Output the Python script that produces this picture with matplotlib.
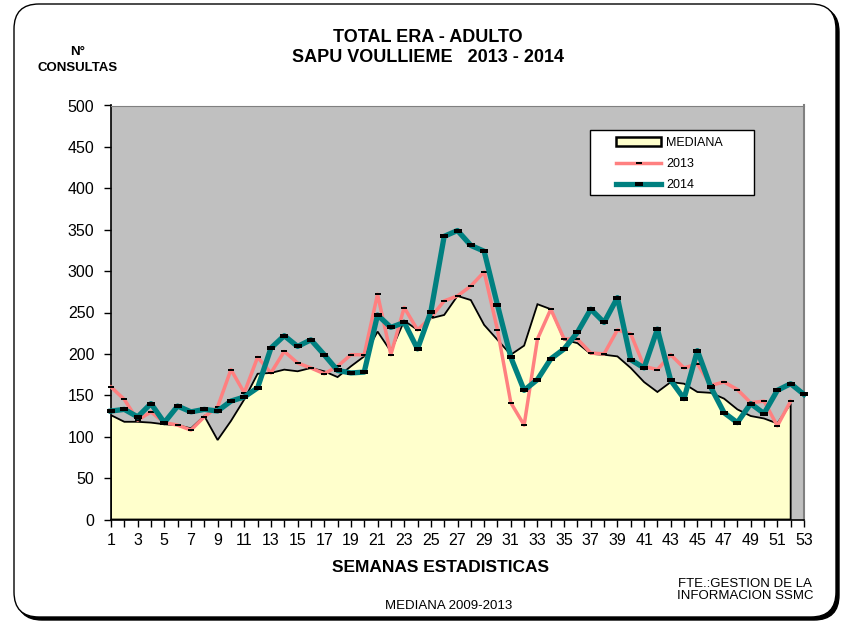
import matplotlib
matplotlib.use("Agg")
import matplotlib.pyplot as plt
import numpy as np
from matplotlib.patches import FancyBboxPatch, Patch, Rectangle
from matplotlib.lines import Line2D

plt.rcParams["font.family"] = ["Liberation Sans", "DejaVu Sans"]

# semanas estadisticas
semanas = np.arange(1, 54)

# mediana 2009-2013 (semanas 1-52)
mediana = [126, 118, 118, 117, 115, 114, 110, 125, 96, 119,
           145, 176, 177, 181, 179, 183, 179, 172, 185, 197,
           227, 203, 240, 229, 243, 247, 270, 265, 235, 217,
           199, 210, 260, 254, 217, 213, 200, 199, 197, 183,
           166, 154, 166, 164, 154, 153, 146, 133, 125, 122,
           116, 140]

# 2013 (semanas 1-52)
serie_2013 = [160, 145, 120, 130, 117, 114, 108, 124, 136, 181,
              153, 196, 177, 203, 189, 183, 176, 185, 199, 199,
              272, 199, 256, 229, 244, 264, 270, 282, 299, 229,
              141, 114, 218, 254, 218, 218, 201, 200, 229, 224,
              185, 181, 199, 183, 188, 162, 166, 157, 141, 143,
              113, 143]

# 2014 (semanas 1-53)
serie_2014 = [131, 133, 124, 140, 117, 137, 130, 133, 131, 143,
              148, 159, 207, 222, 209, 217, 199, 180, 177, 178,
              247, 232, 238, 206, 251, 342, 349, 331, 324, 259,
              196, 156, 169, 194, 206, 226, 254, 238, 268, 193,
              183, 230, 168, 146, 204, 160, 129, 117, 140, 128,
              156, 164, 151]

yticks = [0, 50, 100, 150, 200, 250, 300, 350, 400, 450, 500]

fig = plt.figure(figsize=(8.43, 6.21), dpi=100)

# marco redondeado con sombra
sombra = FancyBboxPatch((0.17, 0.01), 8.22, 6.13,
                        boxstyle="round,pad=0,rounding_size=0.25",
                        transform=fig.dpi_scale_trans,
                        facecolor="black", edgecolor="black", zorder=-2)
marco = FancyBboxPatch((0.14, 0.04), 8.22, 6.13,
                       boxstyle="round,pad=0,rounding_size=0.25",
                       transform=fig.dpi_scale_trans,
                       facecolor="white", edgecolor="black", lw=1, zorder=-1)
fig.add_artist(sombra)
fig.add_artist(marco)

ax = fig.add_axes([111 / 843, 101.5 / 621, 693 / 843, 414 / 621])
ax.set_facecolor("#C0C0C0")

sem_med = semanas[:len(mediana)]
xs = np.concatenate([[sem_med[0]], sem_med, [sem_med[-1]]])
ys = np.concatenate([[0], mediana, [0]])
ax.fill(xs, ys, facecolor="#FFFFCC", edgecolor="black", lw=1.3, zorder=2)

dash = [(-1, -0.42), (1, -0.42), (1, 0.42), (-1, 0.42), (-1, -0.42)]
ax.plot(semanas[:len(serie_2013)], serie_2013, color="#FF8080", lw=2.5,
        marker=dash, markersize=4, markerfacecolor="black",
        markeredgewidth=0, clip_on=False, zorder=3)
ax.plot(semanas, serie_2014, color="#008080", lw=3.8,
        marker=dash, markersize=5.3, markerfacecolor="black",
        markeredgewidth=0, clip_on=False, zorder=4)

ax.set_xlim(1, 53)
ax.set_ylim(0, 500)
ax.set_yticks(yticks)
ax.set_xticks(semanas)
ax.set_xticklabels([str(s) if s % 2 == 1 else "" for s in semanas])
ax.tick_params(axis="y", direction="out", length=5, width=1, pad=7,
               labelsize=11.5, colors="black")
ax.tick_params(axis="x", direction="out", length=5, width=1, pad=5,
               labelsize=11.5, colors="black")
ax.spines["left"].set_color("black")
ax.spines["bottom"].set_color("black")
ax.spines["left"].set_linewidth(1.2)
ax.spines["bottom"].set_linewidth(1.2)
ax.spines["top"].set_color("#808080")
ax.spines["right"].set_color("#808080")
ax.spines["right"].set_linewidth(1.5)

# caja de la leyenda
caja = Rectangle((5.90, (621 - 195) / 100), 1.64, 0.65,
                 transform=fig.dpi_scale_trans, facecolor="white",
                 edgecolor="black", lw=1, zorder=9)
fig.add_artist(caja)

handles = [
    Patch(facecolor="#FFFFCC", edgecolor="black", lw=1.8, label="MEDIANA"),
    Line2D([], [], color="#FF8080", lw=2.5, marker=dash, markersize=4,
           markerfacecolor="black", markeredgewidth=0, label="2013"),
    Line2D([], [], color="#008080", lw=3.8, marker=dash, markersize=5.3,
           markerfacecolor="black", markeredgewidth=0, label="2014"),
]
leg = fig.legend(handles=handles, loc="upper left",
                 bbox_to_anchor=(616 / 843, 1 - 137 / 621),
                 bbox_transform=fig.transFigure,
                 fontsize=9, frameon=False, handlelength=3.6,
                 handletextpad=0.4, borderpad=0, labelspacing=0.72,
                 numpoints=1, borderaxespad=0)
leg.set_zorder(10)

fig.text(428 / 843, 1 - 38 / 621, "TOTAL ERA - ADULTO", ha="center",
         va="center", fontsize=13, fontweight="bold")
fig.text(428 / 843, 1 - 58 / 621, "SAPU VOULLIEME   2013 - 2014", ha="center",
         va="center", fontsize=13, fontweight="bold")
fig.text(78 / 843, 1 - 52 / 621, "N°", ha="center", va="center",
         fontsize=9.5, fontweight="bold")
fig.text(78 / 843, 1 - 68 / 621, "CONSULTAS", ha="center", va="center",
         fontsize=9.5, fontweight="bold")
fig.text(440 / 843, 1 - 568 / 621, "SEMANAS ESTADISTICAS", ha="center",
         va="center", fontsize=12.5, fontweight="bold")
fig.text(745 / 843, 1 - 590 / 621, "FTE.:GESTION DE LA\nINFORMACION SSMC",
         ha="center", va="center", fontsize=9.5, linespacing=1.05)
fig.text(449 / 843, 1 - 606 / 621, "MEDIANA 2009-2013", ha="center",
         va="center", fontsize=9.5)

fig.savefig("out.png", dpi=100)
